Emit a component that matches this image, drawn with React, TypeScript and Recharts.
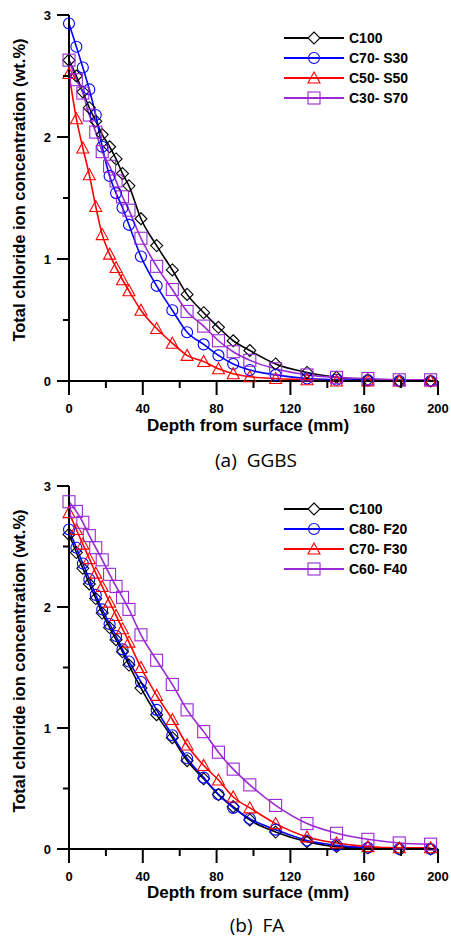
import React from "react";
import { Legend, Line, LineChart, XAxis, YAxis } from "recharts";

// depth of each measuring point (mm)
const depths = [
  0, 4, 7.5, 11, 14.5, 18, 22, 25.5, 29, 32.5, 39, 47.5, 56, 64, 73, 81, 89,
  98, 112, 129, 145, 162, 179, 196,
];

// (a) GGBS, total chloride (wt.%)
const ggbsC100 = [
  2.63, 2.5, 2.37, 2.24, 2.13, 2.02, 1.92, 1.82, 1.7, 1.6, 1.33, 1.11, 0.91,
  0.71, 0.56, 0.44, 0.33, 0.25, 0.14, 0.07, 0.03, 0.01, 0, 0,
];
const ggbsC70S30 = [
  2.93, 2.74, 2.57, 2.39, 2.18, 1.92, 1.68, 1.54, 1.42, 1.28, 1.02, 0.78, 0.58,
  0.4, 0.3, 0.21, 0.14, 0.09, 0.05, 0.02, 0.01, 0.005, 0, 0,
];
const ggbsC50S50 = [
  2.52, 2.15, 1.91, 1.69, 1.43, 1.2, 1.04, 0.93, 0.83, 0.74, 0.58, 0.43, 0.31,
  0.21, 0.16, 0.1, 0.06, 0.035, 0.02, 0.01, 0, 0, 0, 0,
];
const ggbsC30S70 = [
  2.63, 2.47, 2.36, 2.18, 2.04, 1.88, 1.76, 1.64, 1.51, 1.4, 1.17, 0.94, 0.75,
  0.57, 0.45, 0.33, 0.24, 0.17, 0.1, 0.05, 0.03, 0.02, 0.01, 0.01,
];

// (b) FA
const faC100 = [
  2.6, 2.45, 2.32, 2.19, 2.07, 1.95, 1.83, 1.73, 1.63, 1.52, 1.33, 1.11, 0.92,
  0.73, 0.58, 0.45, 0.35, 0.24, 0.14, 0.06, 0.02, 0.01, 0, 0,
];
const faC80F20 = [
  2.64, 2.49, 2.36, 2.23, 2.1, 1.98, 1.86, 1.76, 1.65, 1.55, 1.38, 1.15, 0.94,
  0.75, 0.59, 0.45, 0.34, 0.25, 0.16, 0.07, 0.03, 0.01, 0, 0,
];
const faC70F30 = [
  2.78, 2.64, 2.52, 2.4, 2.28, 2.17, 2.04, 1.93, 1.82, 1.71, 1.5, 1.27, 1.07,
  0.86, 0.69, 0.57, 0.43, 0.34, 0.21, 0.1, 0.05, 0.02, 0.01, 0.01,
];
const faC60F40 = [
  2.87, 2.79, 2.7, 2.59, 2.49, 2.39, 2.27, 2.17, 2.08, 1.98, 1.77, 1.56, 1.36,
  1.15, 0.97, 0.8, 0.66, 0.53, 0.36, 0.21, 0.13, 0.08, 0.05, 0.04,
];

const xTicks = [0, 20, 40, 60, 80, 100, 120, 140, 160, 180, 200];
const yTicks = [0, 0.5, 1, 1.5, 2, 2.5, 3];

const ggbsNames = ["C100", "C70- S30", "C50- S50", "C30- S70"];
const faNames = ["C100", "C80- F20", "C70- F30", "C60- F40"];

const colors = ["#000000", "#0000ff", "#ff0000", "#9a28d4"];
const shapes = ["diamond", "circle", "triangle", "square"];

const BOLD = "'Liberation Sans', Arial, sans-serif";

function buildRows(series: number[][]) {
  return depths.map((d, i) => {
    const row: any = { depth: d };
    series.forEach((s, k) => {
      row["s" + k] = s[i];
    });
    return row;
  });
}

function Marker({ cx, cy, shape, color }: any) {
  if (cx == null || cy == null) return null;
  const common = { fill: "none", stroke: color, strokeWidth: 1.1 };
  if (shape === "diamond")
    return (
      <polygon
        points={`${cx},${cy - 6} ${cx + 6},${cy} ${cx},${cy + 6} ${cx - 6},${cy}`}
        {...common}
      />
    );
  if (shape === "circle") return <circle cx={cx} cy={cy} r={5.5} {...common} />;
  if (shape === "triangle")
    return (
      <polygon
        points={`${cx},${cy - 6} ${cx + 6},${cy + 5} ${cx - 6},${cy + 5}`}
        {...common}
      />
    );
  return <rect x={cx - 6} y={cy - 6} width={12} height={12} {...common} />;
}

const XTick = (props: any) => {
  const { x, y, payload } = props;
  const major = payload.value % 40 === 0;
  return (
    <g>
      <line x1={x} x2={x} y1={y} y2={y + (major ? 14 : 7)} stroke="#000" strokeWidth={2} />
      {major && (
        <text
          x={x}
          y={y + 27}
          textAnchor="middle"
          dominantBaseline="central"
          fontFamily={BOLD}
          fontWeight="bold"
          fontSize={13}
          fill="#000"
        >
          {payload.value}
        </text>
      )}
    </g>
  );
};

const YTick = (props: any) => {
  const { x, y, payload } = props;
  const major = Number.isInteger(payload.value);
  return (
    <g>
      <line x1={x - (major ? 12 : 6)} x2={x} y1={y} y2={y} stroke="#000" strokeWidth={2} />
      {major && (
        <text
          x={x - 18}
          y={y}
          textAnchor="end"
          dominantBaseline="central"
          fontFamily={BOLD}
          fontWeight="bold"
          fontSize={13}
          fill="#000"
        >
          {payload.value}
        </text>
      )}
    </g>
  );
};

function LegendBox({ names }: { names: string[] }) {
  return (
    <div>
      {names.map((n, k) => (
        <div key={n} style={{ display: "flex", alignItems: "center", height: 20 }}>
          <svg width={60} height={14} style={{ display: "block" }}>
            <line x1={0} x2={60} y1={7} y2={7} stroke={colors[k]} strokeWidth={2} />
            <g>
              {shapes[k] === "diamond" ? (
                <polygon points="30,1 36,7 30,13 24,7" fill="#fff" stroke="#000" strokeWidth={1.1} />
              ) : (
                <Marker cx={30} cy={7} shape={shapes[k]} color={colors[k]} />
              )}
            </g>
          </svg>
          <span
            style={{
              marginLeft: 5,
              fontFamily: BOLD,
              fontWeight: "bold",
              fontSize: 14,
              color: "#000",
              whiteSpace: "pre",
            }}
          >
            {n}
          </span>
        </div>
      ))}
    </div>
  );
}

function Panel({
  series,
  names,
  height,
}: {
  series: number[][];
  names: string[];
  height: number;
}) {
  const rows = buildRows(series);
  return (
    <LineChart
      width={451}
      height={height}
      data={rows}
      margin={{ top: 15, right: 13, left: 9, bottom: 0 }}
    >
      <XAxis
        dataKey="depth"
        type="number"
        domain={[0, 200]}
        ticks={xTicks}
        interval={0}
        height={59}
        tickSize={0}
        tickMargin={0}
        tickLine={false}
        tick={<XTick />}
        axisLine={{ stroke: "#000", strokeWidth: 2 }}
      />
      <YAxis
        type="number"
        domain={[0, 3]}
        ticks={yTicks}
        interval={0}
        width={60}
        tickSize={0}
        tickMargin={0}
        tickLine={false}
        tick={<YTick />}
        axisLine={{ stroke: "#000", strokeWidth: 2 }}
      />
      <Legend
        layout="vertical"
        align="center"
        verticalAlign="middle"
        wrapperStyle={{ left: 284, top: 28, width: 150 }}
        content={() => <LegendBox names={names} />}
      />
      {series.map((_, k) => (
        <Line
          key={k}
          dataKey={"s" + k}
          name={names[k]}
          type="monotone"
          stroke={colors[k]}
          strokeWidth={1.6}
          isAnimationActive={false}
          dot={(p: any) => (
            <Marker key={`${k}-${p.index}`} cx={p.cx} cy={p.cy} shape={shapes[k]} color={colors[k]} />
          )}
          activeDot={false}
        />
      ))}
    </LineChart>
  );
}

const yTitle = "Total chloride ion concentration (wt.%)";

function YTitle({ cy }: { cy: number }) {
  return (
    <div
      style={{
        position: "absolute",
        left: 19 - 200,
        top: cy - 10,
        width: 400,
        height: 20,
        lineHeight: "20px",
        textAlign: "center",
        transform: "rotate(-90deg)",
        fontFamily: BOLD,
        fontWeight: "bold",
        fontSize: 16.5,
        color: "#000",
      }}
    >
      {yTitle}
    </div>
  );
}

function Text({ cx, cy, children, style }: any) {
  return (
    <div
      style={{
        position: "absolute",
        left: cx - 200,
        top: cy - 12,
        width: 400,
        height: 24,
        lineHeight: "24px",
        textAlign: "center",
        whiteSpace: "pre",
        color: "#000",
        ...style,
      }}
    >
      {children}
    </div>
  );
}

export default function App() {
  const xTitleStyle = { fontFamily: BOLD, fontWeight: "bold", fontSize: 17 };
  const capStyle = { fontFamily: "'Open Sans', 'Noto Sans', sans-serif", fontSize: 19 };
  return (
    <div
      style={{
        position: "absolute",
        left: 0,
        top: 0,
        width: 451,
        height: 938,
        background: "#fff",
        overflow: "hidden",
      }}
    >
      <div style={{ position: "absolute", left: 0, top: 0 }}>
        <Panel series={[ggbsC100, ggbsC70S30, ggbsC50S50, ggbsC30S70]} names={ggbsNames} height={440} />
      </div>
      <div style={{ position: "absolute", left: 0, top: 471 }}>
        <Panel series={[faC100, faC80F20, faC70F30, faC60F40]} names={faNames} height={437} />
      </div>
      <YTitle cy={190} />
      <YTitle cy={661} />
      <Text cx={248} cy={426} style={xTitleStyle}>Depth from surface (mm)</Text>
      <Text cx={248} cy={893} style={xTitleStyle}>Depth from surface (mm)</Text>
      <Text cx={256} cy={460} style={capStyle}>{"(a)  GGBS"}</Text>
      <Text cx={257} cy={925} style={capStyle}>{"(b)  FA"}</Text>
    </div>
  );
}
